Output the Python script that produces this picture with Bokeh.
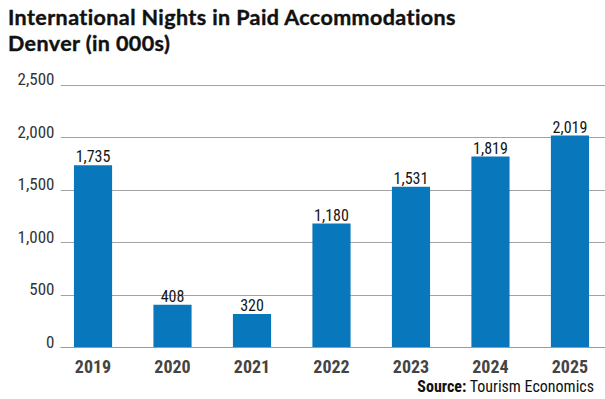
from bokeh.plotting import figure
from bokeh.models import (Range1d, FixedTicker, ColumnDataSource, Div, LinearAxis,
                          NumeralTickFormatter)
from bokeh.layouts import column
from bokeh.core.properties import value
from bokeh.embed import file_html
from bokeh.resources import INLINE

years = [2019, 2020, 2021, 2022, 2023, 2024, 2025]
nights = [1735, 408, 320, 1180, 1531, 1819, 2019]
y_ticks = [0, 500, 1000, 1500, 2000, 2500]
title_1 = "International Nights in Paid Accommodations"
title_2 = "Denver (in 000s)"
source_label = "Source:"
source_name = "Tourism Economics"

COND = "'Roboto Condensed', 'Liberation Sans Narrow', 'DejaVu Sans Condensed', Roboto, sans-serif"
BAR = "#0877BB"

src = ColumnDataSource(dict(x=years, y=nights, lab=[f"{v:,}" for v in nights]))

p = figure(width=605, height=312, frame_width=545, frame_height=273,
           x_range=Range1d(2018.591, 2025.447), y_range=Range1d(0, 2600),
           output_backend="svg", toolbar_location=None,
           min_border_left=60, min_border_right=0, min_border_top=9, min_border_bottom=30)
p.outline_line_color = None
p.extra_y_ranges = {"lab": Range1d(-57, 2543)}

p.vbar(x="x", top="y", width=0.48, source=src, fill_color=BAR, line_color=None)
p.text(x="x", y="y", text="lab", source=src, text_align="center", text_baseline="alphabetic",
       y_offset=-9, text_font=value(COND), text_font_size="16px", text_color="#151515")

p.xgrid.visible = False
p.ygrid.ticker = FixedTicker(ticks=y_ticks[1:])
p.ygrid.grid_line_color = "#a3a3a3"
p.ygrid.grid_line_width = 1

p.yaxis.visible = False
lab_axis = LinearAxis(y_range_name="lab", ticker=FixedTicker(ticks=y_ticks),
                      formatter=NumeralTickFormatter(format="0,0"))
lab_axis.axis_line_color = None
lab_axis.major_tick_line_color = None
lab_axis.minor_tick_line_color = None
lab_axis.major_label_standoff = 0
lab_axis.major_label_text_font = COND
lab_axis.major_label_text_font_size = "17px"
lab_axis.major_label_text_color = "#333333"
p.add_layout(lab_axis, "left")

p.xaxis.ticker = FixedTicker(ticks=years)
p.xaxis.axis_line_color = "#9a9a9a"
p.xaxis.axis_line_width = 1
p.xaxis.major_tick_line_color = None
p.xaxis.minor_tick_line_color = None
p.xaxis.major_label_standoff = 6
p.xaxis.major_label_text_font = COND
p.xaxis.major_label_text_font_style = "bold"
p.xaxis.major_label_text_font_size = "18px"
p.xaxis.major_label_text_color = "#444444"

line_css = ('font-family: Lato, sans-serif; font-weight: bold; font-size: 21.5px; '
            'line-height: 26px; height: 26px; letter-spacing: 0.4px; '
            '-webkit-text-stroke: 0.4px #111; color: #111; white-space: nowrap;')
title_div = Div(
    text=(f'<div style="padding: 4px 0 0 8px;">'
          f'<div style="{line_css}">{title_1}</div>'
          f'<div style="{line_css}">{title_2}</div></div>'),
    width=605, height=65, margin=0)
source_div = Div(
    text=(f'<div style="font-family: {COND}; font-size: 16px; line-height: 16px; color: #111; '
          f'text-align: right; width: 594px; padding-top: 2px; white-space: nowrap;">'
          f'<b>{source_label}</b> {source_name}</div>'),
    width=605, height=20, margin=0)

layout = column(title_div, p, source_div, spacing=0, margin=0)
open("out.html", "w").write(file_html(layout, INLINE))
